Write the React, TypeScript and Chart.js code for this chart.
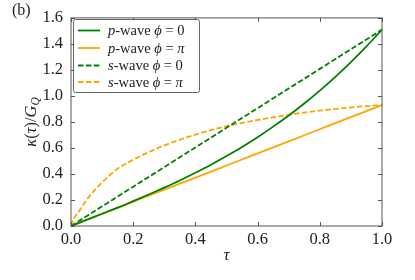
import React, { useEffect, useRef } from 'react';
import { Chart, registerables } from 'chart.js';

Chart.register(...registerables);

// ---- data ----
const tau = [0, 0.05, 0.1, 0.15, 0.2, 0.25, 0.3, 0.35, 0.4, 0.45, 0.5, 0.55, 0.6, 0.65, 0.7, 0.75, 0.8, 0.85, 0.9, 0.95, 1.0];
const pWavePhi0 = [0, 0.047, 0.094, 0.141, 0.191, 0.242, 0.295, 0.35, 0.409, 0.471, 0.538, 0.608, 0.683, 0.764, 0.85, 0.942, 1.041, 1.147, 1.26, 1.381, 1.51];
const pWavePhiPi = [0, 0.0465, 0.093, 0.1395, 0.186, 0.2325, 0.279, 0.3255, 0.372, 0.4185, 0.465, 0.5115, 0.558, 0.6045, 0.651, 0.6975, 0.744, 0.7905, 0.837, 0.8835, 0.93];
const sWavePhi0 = [0, 0.0755, 0.151, 0.2265, 0.302, 0.3775, 0.453, 0.5285, 0.604, 0.6795, 0.755, 0.8305, 0.906, 0.9815, 1.057, 1.1325, 1.208, 1.2835, 1.359, 1.4345, 1.51];
const tauS = [0, 0.01, 0.025, 0.05, 0.1, 0.15, 0.2, 0.25, 0.3, 0.35, 0.4, 0.45, 0.5, 0.55, 0.6, 0.65, 0.7, 0.75, 0.8, 0.85, 0.9, 0.95, 1.0];
const sWavePhiPi = [0, 0.06, 0.11, 0.2, 0.335, 0.44, 0.51, 0.568, 0.62, 0.663, 0.702, 0.737, 0.767, 0.792, 0.815, 0.835, 0.855, 0.872, 0.887, 0.9, 0.912, 0.922, 0.93];

const xTicks = [0, 0.2, 0.4, 0.6, 0.8, 1.0];
const yTicks = [0, 0.2, 0.4, 0.6, 0.8, 1.0, 1.2, 1.4, 1.6];

const GREEN = '#008000';
const ORANGE = '#FFA500';
const FRAME = '#555555';
const TEXT = '#222222';
const SERIF = '"Liberation Serif", "DejaVu Serif", serif';
const LW = 1.8;
const DASH = [5.5, 2.4];

type Seg = { t: string; italic?: boolean; sub?: boolean };

const legendItems: { color: string; dash: number[]; segs: Seg[] }[] = [
  { color: GREEN, dash: [], segs: [{ t: 'p', italic: true }, { t: '-wave ' }, { t: '\u03D5', italic: true }, { t: ' = ' }, { t: '0' }] },
  { color: ORANGE, dash: [], segs: [{ t: 'p', italic: true }, { t: '-wave ' }, { t: '\u03D5', italic: true }, { t: ' = ' }, { t: '\u03C0', italic: true }] },
  { color: GREEN, dash: DASH, segs: [{ t: 's', italic: true }, { t: '-wave ' }, { t: '\u03D5', italic: true }, { t: ' = ' }, { t: '0' }] },
  { color: ORANGE, dash: DASH, segs: [{ t: 's', italic: true }, { t: '-wave ' }, { t: '\u03D5', italic: true }, { t: ' = ' }, { t: '\u03C0', italic: true }] },
];

function drawSegs(ctx: CanvasRenderingContext2D, segs: Seg[], x: number, y: number, size: number) {
  let cx = x;
  for (const s of segs) {
    const sz = s.sub ? size * 0.7 : size;
    ctx.font = `${s.italic ? 'italic ' : ''}${sz}px ${SERIF}`;
    ctx.fillText(s.t, cx, y + (s.sub ? size * 0.25 : 0));
    cx += ctx.measureText(s.t).width;
  }
  return cx - x;
}

function measureSegs(ctx: CanvasRenderingContext2D, segs: Seg[], size: number) {
  let w = 0;
  for (const s of segs) {
    const sz = s.sub ? size * 0.7 : size;
    ctx.font = `${s.italic ? 'italic ' : ''}${sz}px ${SERIF}`;
    w += ctx.measureText(s.t).width;
  }
  return w;
}

const decorPlugin = {
  id: 'decor',
  afterDraw(chart: any) {
    const ctx: CanvasRenderingContext2D = chart.ctx;
    const { left, right, top, bottom } = chart.chartArea;
    const xs = chart.scales.x;
    const ys = chart.scales.y;
    ctx.save();
    // frame
    ctx.strokeStyle = FRAME;
    ctx.lineWidth = 1;
    ctx.setLineDash([]);
    ctx.strokeRect(left, top, right - left, bottom - top);
    // inward ticks on all sides
    const tl = 4;
    ctx.beginPath();
    for (const v of xTicks) {
      const px = Math.round(xs.getPixelForValue(v)) + 0.5;
      ctx.moveTo(px, bottom); ctx.lineTo(px, bottom - tl);
      ctx.moveTo(px, top); ctx.lineTo(px, top + tl);
    }
    for (const v of yTicks) {
      const py = Math.round(ys.getPixelForValue(v)) + 0.5;
      ctx.moveTo(left, py); ctx.lineTo(left + tl, py);
      ctx.moveTo(right, py); ctx.lineTo(right - tl, py);
    }
    ctx.stroke();

    // legend
    const lx = 73, ly = 19, lw = 126, lh = 73;
    ctx.fillStyle = 'rgba(255,255,255,0.9)';
    ctx.strokeStyle = '#666666';
    ctx.lineWidth = 1;
    ctx.beginPath();
    (ctx as any).roundRect ? (ctx as any).roundRect(lx + 0.5, ly + 0.5, lw, lh, 2) : ctx.rect(lx + 0.5, ly + 0.5, lw, lh);
    ctx.fill();
    ctx.stroke();
    const rowY = [30.5, 48, 65.5, 82];
    legendItems.forEach((it, i) => {
      const y = rowY[i];
      ctx.strokeStyle = it.color;
      ctx.lineWidth = LW;
      ctx.setLineDash(it.dash);
      ctx.beginPath();
      ctx.moveTo(78, y); ctx.lineTo(100, y);
      ctx.stroke();
      ctx.setLineDash([]);
      ctx.fillStyle = TEXT;
      ctx.textBaseline = 'middle';
      ctx.textAlign = 'left';
      drawSegs(ctx, it.segs, 108, y + 1, 14.5);
    });

    // x title
    ctx.fillStyle = TEXT;
    ctx.textAlign = 'left';
    ctx.textBaseline = 'middle';
    const xt: Seg[] = [{ t: '\u03C4', italic: true }];
    const xw = measureSegs(ctx, xt, 17);
    drawSegs(ctx, xt, (left + right) / 2 - xw / 2, 256, 17);

    // y title (rotated)
    const yt: Seg[] = [
      { t: '\u03BA', italic: true }, { t: '(' }, { t: '\u03C4', italic: true }, { t: ')/' },
      { t: 'G', italic: true }, { t: 'Q', italic: true, sub: true },
    ];
    ctx.save();
    ctx.translate(32, (top + bottom) / 2);
    ctx.rotate(-Math.PI / 2);
    const yw = measureSegs(ctx, yt, 16.5);
    drawSegs(ctx, yt, -yw / 2, 0, 16.5);
    ctx.restore();

    // panel label
    ctx.font = `16px ${SERIF}`;
    ctx.textBaseline = 'middle';
    ctx.fillText('(b)', 12, 11);
    ctx.restore();
  },
};

export default function App() {
  const ref = useRef<HTMLCanvasElement | null>(null);
  useEffect(() => {
    if (!ref.current) return;
    const toPts = (xsArr: number[], ysArr: number[]) => xsArr.map((x, i) => ({ x, y: ysArr[i] }));
    const chart = new Chart(ref.current, {
      type: 'line',
      data: {
        datasets: [
          { label: 'p-wave φ = 0', data: toPts(tau, pWavePhi0), borderColor: GREEN, borderWidth: LW, pointRadius: 0, cubicInterpolationMode: 'monotone', fill: false },
          { label: 'p-wave φ = π', data: toPts(tau, pWavePhiPi), borderColor: ORANGE, borderWidth: LW, pointRadius: 0, cubicInterpolationMode: 'monotone', fill: false },
          { label: 's-wave φ = 0', data: toPts(tau, sWavePhi0), borderColor: GREEN, borderWidth: LW, borderDash: DASH, pointRadius: 0, fill: false },
          { label: 's-wave φ = π', data: toPts(tauS, sWavePhiPi), borderColor: ORANGE, borderWidth: LW, borderDash: DASH, pointRadius: 0, cubicInterpolationMode: 'monotone', fill: false },
        ],
      } as any,
      options: {
        animation: false,
        responsive: true,
        maintainAspectRatio: false,
        layout: { padding: { left: 0, right: 33, top: 16, bottom: 0 } },
        plugins: { legend: { display: false }, tooltip: { enabled: false } },
        scales: {
          x: {
            type: 'linear',
            min: 0,
            max: 1,
            grid: { display: false, drawTicks: false },
            border: { display: false },
            afterBuildTicks: (s: any) => { s.ticks = xTicks.map((v) => ({ value: v })); },
            afterFit: (s: any) => { s.height = 54; },
            ticks: {
              padding: 4,
              color: TEXT,
              font: { family: SERIF, size: 16.5 },
              callback: (v: any) => Number(v).toFixed(1),
            },
          },
          y: {
            type: 'linear',
            min: 0,
            max: 1.6,
            grid: { display: false, drawTicks: false },
            border: { display: false },
            afterBuildTicks: (s: any) => { s.ticks = yTicks.map((v) => ({ value: v })); },
            afterFit: (s: any) => { s.width = 71; },
            ticks: {
              padding: 8,
              color: TEXT,
              font: { family: SERIF, size: 16.5 },
              callback: (v: any) => Number(v).toFixed(1),
            },
          },
        },
      } as any,
      plugins: [decorPlugin],
    });
    return () => chart.destroy();
  }, []);
  return (
    <div style={{ position: 'absolute', left: 0, top: 0, width: 415, height: 280, background: '#fff' }}>
      <canvas ref={ref} />
    </div>
  );
}
